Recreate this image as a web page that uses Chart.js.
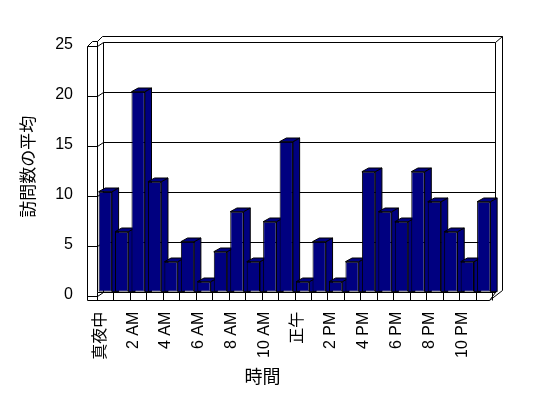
<!DOCTYPE html>
<html>
<head>
<meta charset="utf-8">
<script src="https://cdn.jsdelivr.net/npm/chart.js@4/dist/chart.umd.min.js"></script>
<style>
  html, body { margin: 0; padding: 0; background: #fff; }
  #wrap { width: 548px; height: 398px; }
</style>
</head>
<body>
<div id="wrap"><canvas id="chart"></canvas></div>
<script>
// ---- data ----
var hours = [
    '真夜中', '1 AM', '2 AM', '3 AM', '4 AM', '5 AM', '6 AM', '7 AM', '8 AM', '9 AM', '10 AM', '11 AM',
    '正午', '1 PM', '2 PM', '3 PM', '4 PM', '5 PM', '6 PM', '7 PM', '8 PM', '9 PM', '10 PM', '11 PM'
];
var visits = [10, 6, 20, 11, 3, 5, 1, 4, 8, 3, 7, 15, 1, 5, 1, 3, 12, 8, 7, 12, 9, 6, 3, 9];
var yMin = 0, yMax = 25, yStep = 5;

var NAVY = '#000080';

// fake 3D look, Excel style: walls, floor and bar depth
var frame3d = {
    id: 'frame3d',
    beforeDatasetsDraw: function (chart) {
        var ctx = chart.ctx, a = chart.chartArea;
        var ys = chart.scales.y, xs = chart.scales.x;
        var p = function (v) { return Math.round(v) + 0.5; };

        var L0 = a.left - 10, L1 = a.left, L2 = a.left + 5.5;
        var R = a.right + 3, R2 = a.right + 10;
        var top = a.top, bot = a.bottom, floorFront = a.bottom + 8;

        ctx.save();
        ctx.strokeStyle = '#000';
        ctx.lineWidth = 1;
        ctx.beginPath();
        // left wall
        ctx.moveTo(p(L0), p(top + 4)); ctx.lineTo(p(L0), p(floorFront));
        ctx.moveTo(p(L0), p(top + 4)); ctx.lineTo(p(L0 + 5), p(top - 1));
        ctx.lineTo(p(L1), p(top - 1)); ctx.lineTo(p(L1 + 5), p(top - 6));
        ctx.moveTo(p(L1), p(top - 1)); ctx.lineTo(p(L1), p(bot));
        ctx.moveTo(p(L2), p(top)); ctx.lineTo(p(L2), p(bot));
        // back wall outline
        ctx.moveTo(p(L1 + 5), p(top - 6)); ctx.lineTo(p(R2), p(top - 6));
        ctx.lineTo(p(R2), p(bot - 2));
        ctx.moveTo(p(R), p(top)); ctx.lineTo(p(R2), p(top - 6));
        ctx.moveTo(p(R), p(top)); ctx.lineTo(p(R), p(bot));
        // floor
        ctx.moveTo(p(L1), p(bot)); ctx.lineTo(p(R), p(bot));
        ctx.moveTo(p(L0), p(floorFront)); ctx.lineTo(p(a.right - 3), p(floorFront));
        ctx.lineTo(p(R), p(bot));
        ctx.moveTo(p(a.right - 3), p(floorFront)); ctx.lineTo(p(R2), p(bot - 2));
        for (var i = 0; i <= hours.length; i++) {
            var xb = a.left + (a.right - a.left) * i / hours.length;
            ctx.moveTo(p(xb), p(bot)); ctx.lineTo(p(xb), p(floorFront));
        }
        // grid lines with wall ticks
        ys.ticks.forEach(function (t) {
            var yy = ys.getPixelForValue(t.value);
            ctx.moveTo(p(L0), p(yy + 4)); ctx.lineTo(p(L1), p(yy + 4));
            ctx.lineTo(p(L2), p(yy));
            ctx.moveTo(p(L2), p(yy)); ctx.lineTo(p(R), p(yy));
        });
        ctx.stroke();

        // bar sides and tops, drawn before the front faces
        var dx = 6.7, dy = -3.7;
        var meta = chart.getDatasetMeta(0);
        ctx.fillStyle = NAVY;
        meta.data.forEach(function (el) {
            var b = el.getProps(['x', 'y', 'base', 'width'], true);
            var l = b.x - b.width / 2, r = b.x + b.width / 2;
            ctx.beginPath();
            ctx.moveTo(r, b.y); ctx.lineTo(r + dx, b.y + dy);
            ctx.lineTo(r + dx, b.base); ctx.lineTo(r, b.base);
            ctx.closePath();
            ctx.fill(); ctx.stroke();
            ctx.beginPath();
            ctx.moveTo(l, b.y); ctx.lineTo(l + dx, b.y + dy);
            ctx.lineTo(r + dx, b.y + dy); ctx.lineTo(r, b.y);
            ctx.closePath();
            ctx.fill(); ctx.stroke();
        });
        ctx.restore();
    }
};

new Chart(document.getElementById('chart'), {
    type: 'bar',
    data: {
        labels: hours,
        datasets: [{
            data: visits,
            backgroundColor: NAVY,
            borderColor: '#000',
            borderWidth: 1,
            borderSkipped: false,
            barPercentage: 0.81,
            categoryPercentage: 1
        }]
    },
    options: {
        responsive: true,
        maintainAspectRatio: false,
        animation: false,
        layout: { padding: { left: 33, right: 56, top: 41.7, bottom: 11.2 } },
        plugins: {
            legend: { display: false },
            tooltip: { enabled: false },
            title: {
                display: true,
                position: 'bottom',
                text: '時間',
                color: '#000',
                font: { family: '"Noto Sans CJK JP"', size: 18, weight: 'normal' },
                padding: 0
            }
        },
        scales: {
            x: {
                grid: { display: false, drawTicks: false },
                border: { display: false },
                afterFit: function (s) { s.height = 73.5; },
                ticks: {
                    autoSkip: false,
                    minRotation: 90,
                    maxRotation: 90,
                    padding: 20,
                    labelOffset: -5,
                    color: '#000',
                    font: { family: '"Liberation Sans", "Noto Sans CJK JP"', size: 16 },
                    callback: function (v, i) { return i % 2 === 0 ? hours[i] : ''; }
                }
            },
            y: {
                min: yMin,
                max: yMax,
                grid: { display: false, drawTicks: false },
                border: { display: false },
                afterFit: function (s) { s.width = 64; },
                ticks: {
                    stepSize: yStep,
                    padding: 24,
                    labelOffset: 3,
                    color: '#000',
                    font: { family: '"Liberation Sans"', size: 16 }
                },
                title: {
                    display: true,
                    text: '訪問数の平均',
                    color: '#000',
                    font: { family: '"Noto Sans CJK JP"', size: 17 },
                    padding: { top: -16, bottom: 0 }
                }
            }
        }
    },
    plugins: [frame3d]
});
</script>
</body>
</html>
